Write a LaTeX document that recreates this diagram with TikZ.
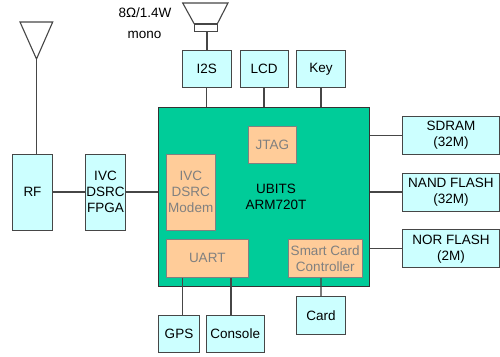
\documentclass[tikz,border=0pt]{standalone}
\usepackage{fontspec}
\setmainfont{Liberation Sans}
\definecolor{cyanbox}{RGB}{204,255,255}
\definecolor{maingreen}{RGB}{0,204,153}
\definecolor{orangebox}{RGB}{255,204,153}
\definecolor{linegray}{RGB}{70,70,70}
\definecolor{inboxgray}{RGB}{128,128,128}
\tikzset{
  lbl/.style={font=\fontsize{13.5}{16}\selectfont,align=center,inner sep=0pt,text=black},
  cbox/.style={lbl,draw=linegray,line width=1pt,fill=cyanbox,anchor=center},
  obox/.style={lbl,draw=inboxgray,line width=1pt,fill=orangebox,text=inboxgray,anchor=center},
  conn/.style={draw=linegray,line width=1.1pt},
  sz/.style 2 args={minimum width=#1pt,minimum height=#2pt}
}
\begin{document}
\begin{tikzpicture}[x=1pt,y=-1pt]
\useasboundingbox (0,0) rectangle (500,356);
% main block
\node[draw=black!80,line width=1pt,fill=maingreen,sz={211.5}{179},inner sep=0pt] (main) at (263.75,196.5) {};
\node[lbl] (ubits) at (276,196.5) {UBITS\\ARM720T};
% inner blocks
\node[obox,sz={48.5}{37.5}] (jtag) at (272.25,144.75) {JTAG};
\node[obox,sz={48.5}{76}] (modem) at (190.75,192) {IVC\\DSRC\\Modem};
\node[obox,sz={81.5}{37.5}] (uart) at (207.25,258.25) {UART};
\node[obox,sz={73.5}{37.5}] (smart) at (325.25,258.25) {Smart Card\\Controller};
% cyan blocks
\node[cbox,sz={48.5}{37}] (i2s) at (206.75,69) {I2S};
\node[cbox,sz={48}{37}] (lcd) at (264,69) {LCD};
\node[cbox,sz={49}{37}] (key) at (321,69) {Key};
\node[cbox,sz={40}{76}] (rf) at (32.5,192) {RF};
\node[cbox,sz={40}{76}] (ivc) at (105.5,192) {IVC\\DSRC\\FPGA};
\node[cbox,sz={41}{37.5}] (gps) at (179,334) {GPS};
\node[cbox,sz={57.5}{37.5}] (console) at (235.25,334) {Console};
\node[cbox,sz={49}{37.5}] (card) at (321,315.25) {Card};
\node[cbox,sz={97}{37.5}] (sdram) at (451,135.25) {SDRAM\\(32M)};
\node[cbox,sz={97}{38}] (nand) at (451,192) {NAND FLASH\\(32M)};
\node[cbox,sz={97}{38}] (nor) at (451,248.75) {NOR FLASH\\(2M)};
% speaker and antenna
\node[draw=linegray,line width=0.9pt,fill=white,sz={22.5}{7.5},inner sep=0pt] (spk) at (205.75,27.75) {};
\coordinate (spktl) at (182.7,3);
\coordinate (spktr) at (228,3);
\draw[conn,fill=white] (spktl) -- (spktr) -- (spk.north east) -- (spk.north west) -- cycle;
\coordinate (anttl) at (20,22);
\coordinate (anttr) at (52.7,22);
\coordinate (anttip) at (36.5,59);
\draw[conn] (anttl) -- (anttr) -- (anttip) -- cycle;
% captions
\node[lbl] (power) at (145,13) {8Ω/1.4W};
\node[lbl] (mono) at (144.5,35) {mono};
% connectors
\draw[conn] (anttip) -- (anttip |- rf.north);
\draw[conn] (rf.east) -- (ivc.west);
\draw[conn] (ivc.east) -- (main.west |- ivc.east);
\draw[conn] (i2s.north -| spk.south) ++(1.2,0) -- ++(0,-19);
\draw[conn] (i2s.south) -- (i2s.south |- main.north);
\draw[conn] (lcd.south) -- (lcd.south |- main.north);
\draw[conn] (key.south) -- (key.south |- main.north);
\draw[conn] (main.east |- sdram.west) -- (sdram.west);
\draw[conn] (main.east |- nand.west) -- (nand.west);
\draw[conn] (main.east |- nor.west) -- (nor.west);
\coordinate (gpsup) at (182.5,315.3);
\coordinate (conup) at (231,315.3);
\draw[conn] (gpsup) -- (gpsup |- uart.south);
\draw[conn] (conup) -- (conup |- uart.south);
\draw[conn,draw opacity=0.7] (smart.south -| card.north) -- (card.north);
\end{tikzpicture}
\end{document}
